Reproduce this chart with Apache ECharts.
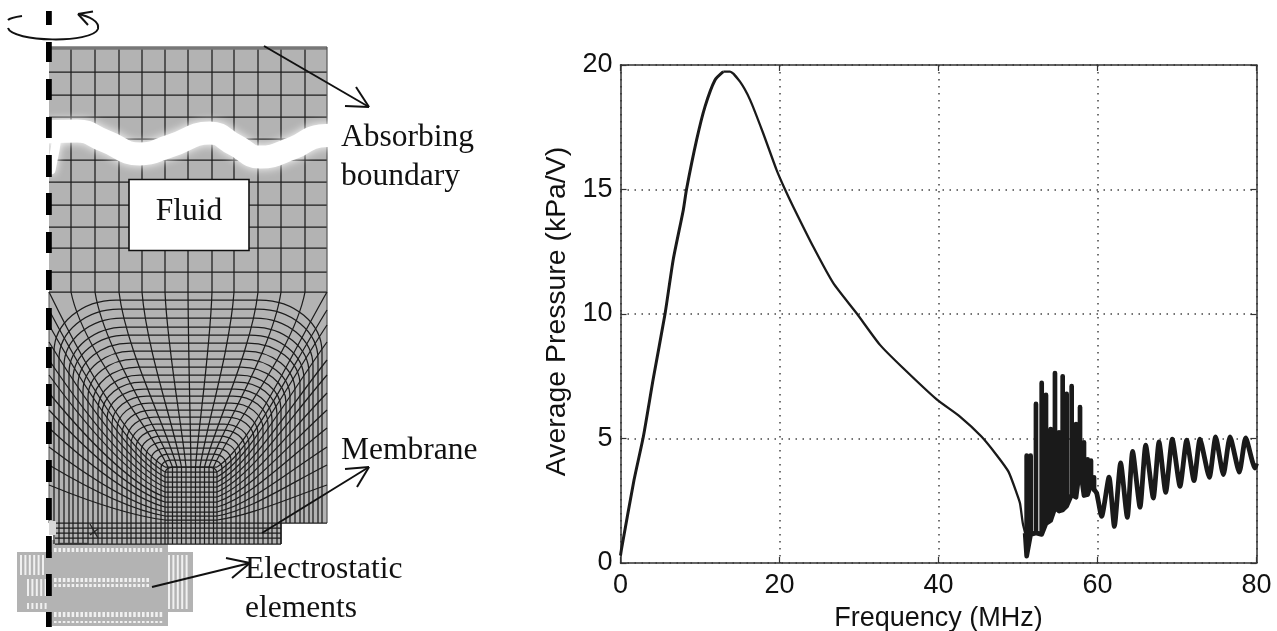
<!DOCTYPE html>
<html><head><meta charset="utf-8">
<style>html,body{margin:0;padding:0;background:#fff}#c{width:1277px;height:631px}</style>
<script src="https://cdn.jsdelivr.net/npm/echarts@6/dist/echarts.min.js"></script>
</head><body><div id="c"></div>
<script>
// ---------- right panel: Average Pressure vs Frequency, [MHz, kPa/V] ----------
const xTicks = [0, 20, 40, 60, 80];
const yTicks = [0, 5, 10, 15, 20];
const xTitle = 'Frequency (MHz)';
const yTitle = 'Average Pressure (kPa/V)';
const risePart = [[0,0.3],[0.15,0.6],[1.7,3.33],[2.87,5.07],[4.13,7.42],[5.6,10],[6.64,12.2],[7.9,14.18],[8.3,15],[9.58,17],[10.63,18.33],[11.89,19.4],[12.93,19.73]];
const fallPart = [[12.93,19.73],[13.77,19.73],[15.03,19.33],[16.3,18.6],[17.9,17.3],[19.64,15.78],[20.7,15],[21.74,14.3],[24.25,12.7],[26.77,11.24],[29.7,10.03],[32.64,8.76],[35.57,7.82],[39.77,6.57],[42.7,5.88],[45.43,5.07],[47.3,4.34],[48.8,3.67],[49.84,2.8],[50.25,2.4],[50.6,1.6],[50.9,1.2]];
// burst region: each column is [MHz, low, high]
const burstColumns = [[51.09,0.28,4.31],[51.59,1.15,4.31],[52.26,1.21,6.39],[52.98,1.15,7.23],[53.52,1.59,6.75],[54.11,1.71,5.38],[54.65,2.22,7.63],[55.16,2.09,5.25],[55.62,2.13,7.5],[56.12,2.29,6.79],[56.75,2.75,7.1],[57.3,2.64,5.58],[57.8,3.87,6.26],[58.3,2.71,4.85],[58.76,2.75,4.16],[59.18,3.15,4.11],[59.56,2.95,3.44]];
const tailPart = [[59.56,2.95],[59.9,2.8],[60.52,1.87],[61.45,3.45],[62.12,1.47],[62.91,4.02],[63.75,1.83],[64.42,4.48],[65.35,2.24],[66.06,4.73],[67.02,2.61],[67.74,4.86],[68.58,2.84],[69.41,4.97],[70.38,3.08],[71.22,4.93],[72.14,3.31],[72.89,4.97],[74.07,3.44],[74.86,5.06],[75.83,3.55],[76.67,5.06],[77.84,3.65],[78.64,5.02],[79.81,3.81],[80,4.0]];

// ---------- left panel: finite-element schematic, in diagram units ----------
const meshCols = [71,95,119,142,165,188,212,234,258,281,305];
const meshRows = [72,95,117,139,160,182,205,227,248,272,292];
// rings of the refined zone: [left foot, top, right foot, corner width, corner height]
const rings = [[54,300,322,62,52],[59,309,318,60,50],[64,318,313,58,48],[69,327,309,56,46],[73,335,304,54,44],[78,343,300,52,42],[83,351,295,49,40],[88,359,290,47,38],[93,367,286,45,36],[98,375,281,42,34],[102,382,277,40,32],[107,389,272,37,30],[112,396,268,35,28],[117,403,263,32,26],[122,410,258,30,24],[127,417,254,27,22],[131,424,249,25,20],[136,430,245,22,18],[141,436,240,20,16],[146,442,236,17,14],[151,448,231,15,12],[156,454,226,12,10],[161,460,222,10,8],[165,467,217,8,6]];
const topFans = [[71,168],[95,172.5],[119,177],[142,181.5],[165,186],[188,191],[212,195.5],[234,200],[258,204.5],[281,209],[305,213.5]];
const sideFans = [[292,467],[310,472],[325,477],[342,482],[360,487],[375,492],[393,497],[410,502],[428,507],[447,512],[465,516],[485,520],[523,523]];
const blockRows = [528,533,538,544];
const wave = [[30,133],[77,131],[105,141],[140,154],[170,146],[210,133],[235,145],[260,157],[293,148],[320,136],[340,135]];
const waveTail = [[58,130],[55,150],[51,170]];
const axisDashes = [[11,25],[42,62],[79,100],[117,138],[155,177],[193,215],[232,253],[270,290],[308,330],[347,368],[384,406],[422,444],[460,482],[498,520],[536,558],[574,596],[612,627]];
// straight arrows: [x0,y0,x1,y1,head a x,y,head b x,y]
const arrows = [[264,46,369,107,356,87,345,106],[262,533,369,467,345,469,357,487],[152,587,250,563,226,558,232,578]];
const grayBlocks = [[49,47,278,476],[55,523,226,21],[52,540,116,86],[17,552,176,60]];
// slit groups: [x start, x end, step, y start, y end, slit width]
const slits = [[20,46,4.4,555,575,2],[27,46,4.4,579,596,2],[27,46,4.4,603,609,2],[168,190,4.4,555,609,2],[54,163,4.4,548,552,2.6],[54,150,4.4,578,582,2.6],[54,150,4.4,584,587,2.6],[54,163,4.4,612,617,2.6],[54,163,4.4,621,623,2.6]];
const notes = [['Fluid',189,212],['Absorbing',341,138],['boundary',341,177],['Membrane',341,451],['Electrostatic',245,570],['elements',245,609]];

const MESH = '#1c1c1c';
function line(api,a,b,stroke,w){const p=api.coord(a),q=api.coord(b);return {type:'line',shape:{x1:p[0],y1:p[1],x2:q[0],y2:q[1]},style:{stroke:stroke||MESH,lineWidth:w||1.25}};}
function bez(api,a,c,d,b,stroke,w){const p=api.coord(a),q=api.coord(b),r=api.coord(c),s=api.coord(d);return {type:'bezierCurve',shape:{x1:p[0],y1:p[1],x2:q[0],y2:q[1],cpx1:r[0],cpy1:r[1],cpx2:s[0],cpy2:s[1]},style:{stroke:stroke||MESH,lineWidth:w||1.25,fill:'none'}};}
function box(api,x,y,w,h,fill,stroke,lw){const p=api.coord([x,y]),q=api.coord([x+w,y+h]);return {type:'rect',shape:{x:p[0],y:p[1],width:q[0]-p[0],height:q[1]-p[1]},style:{fill:fill,stroke:stroke||null,lineWidth:lw||0}};}
function layer(z,data,fn){return {type:'custom',coordinateSystem:'cartesian2d',xAxisIndex:2,yAxisIndex:2,z:z,silent:true,clip:false,animation:false,data:data.map((d,i)=>i),renderItem:(p,api)=>({type:'group',children:fn(api,data[p.dataIndex])})};}
const footEnd = x => x<=281 ? 544 : 523;

const chartLine = (data,w,smooth)=>({type:'line',data:data,xAxisIndex:0,yAxisIndex:0,showSymbol:false,symbol:'none',animation:false,silent:true,z:5,smooth:smooth||false,lineStyle:{color:'#1a1a1a',width:w,join:'round',cap:'butt'}});
const burstPath = [[50.9,1.2]].concat(burstColumns.flatMap(c=>[[c[0],c[1]],[c[0],c[2]],[c[0],c[1]]]));

const option = {
  animation:false,backgroundColor:'#fff',
  grid:[
    {left:620.5,top:65,width:636,height:498,show:false,outerBoundsMode:'none'},
    {left:0,top:0,width:480,height:631,show:false,outerBoundsMode:'none'}
  ],
  xAxis:[
    {type:'value',gridIndex:0,min:0,max:80,interval:20,name:xTitle,nameLocation:'middle',nameGap:42,nameTextStyle:{fontFamily:'Liberation Sans',fontSize:27,color:'#111'},
      axisLine:{show:true,onZero:false,lineStyle:{color:'#333',width:1.5}},axisTick:{show:true,inside:true,length:6,lineStyle:{color:'#333',width:1.2}},
      axisLabel:{fontFamily:'Liberation Sans',fontSize:27,color:'#111',margin:9,showMinLabel:true,showMaxLabel:true,formatter:v=>xTicks.includes(v)?String(v):''},
      splitLine:{show:true,lineStyle:{color:'#444',width:1.5,type:[1.5,5.5]}}},
    {type:'value',gridIndex:0,position:'top',min:0,max:80,interval:20,axisLine:{show:true,onZero:false,lineStyle:{color:'#333',width:1.5}},axisTick:{show:true,inside:true,length:6,lineStyle:{color:'#333',width:1.2}},axisLabel:{show:false},splitLine:{show:false}},
    {type:'value',gridIndex:1,min:0,max:480,show:false}
  ],
  yAxis:[
    {type:'value',gridIndex:0,min:0,max:20,interval:5,name:yTitle,nameLocation:'middle',nameGap:49,nameTextStyle:{fontFamily:'Liberation Sans',fontSize:28.4,color:'#111',padding:[0,0,0,5]},
      axisLine:{show:true,onZero:false,lineStyle:{color:'#333',width:1.5}},axisTick:{show:true,inside:true,length:6,lineStyle:{color:'#333',width:1.2}},
      axisLabel:{fontFamily:'Liberation Sans',fontSize:27,color:'#111',margin:8,showMinLabel:true,showMaxLabel:true,formatter:v=>yTicks.includes(v)?String(v):''},
      splitLine:{show:true,lineStyle:{color:'#444',width:1.5,type:[1.5,5.5]}}},
    {type:'value',gridIndex:0,position:'right',min:0,max:20,interval:5,axisLine:{show:true,onZero:false,lineStyle:{color:'#333',width:1.5}},axisTick:{show:true,inside:true,length:6,lineStyle:{color:'#333',width:1.2}},axisLabel:{show:false},splitLine:{show:false}},
    {type:'value',gridIndex:1,min:0,max:631,inverse:true,show:false}
  ],
  series:[
    chartLine(risePart,3,0.2),chartLine(fallPart,2.3,0.2),chartLine(burstPath,4.7),chartLine(tailPart,4.8,0.2),
    layer(1,grayBlocks,(api,b)=>[box(api,b[0],b[1],b[2],b[3],'#b3b3b3')]),
    layer(1,slits,(api,s)=>{const o=[];for(let x=s[0];x<=s[1];x+=s[2])o.push(box(api,x,s[3],s[5],s[4]-s[3],'#f0f0f0'));return o;}),
    layer(2,meshCols,(api,x)=>[line(api,[x,47],[x,292])]),
    layer(2,meshRows,(api,y)=>[line(api,[49,y],[327,y])]),
    layer(2,[[48,'#777',3.5]],(api,r)=>[line(api,[49,r[0]],[327,r[0]],r[1],r[2]),line(api,[327,47],[327,523],'#555',1.2),line(api,[49,292],[49,523],'#555',1)]),
    layer(2,rings,(api,r)=>[
      line(api,[r[0],r[1]+r[4]],[r[0],footEnd(r[0])]),
      bez(api,[r[0],r[1]+r[4]],[r[0],r[1]+r[4]*0.45],[r[0]+r[3]*0.45,r[1]],[r[0]+r[3],r[1]]),
      line(api,[r[0]+r[3],r[1]],[r[2]-r[3],r[1]]),
      bez(api,[r[2]-r[3],r[1]],[r[2]-r[3]*0.45,r[1]],[r[2],r[1]+r[4]*0.45],[r[2],r[1]+r[4]]),
      line(api,[r[2],r[1]+r[4]],[r[2],footEnd(r[2])])
    ]),
    layer(2,topFans,(api,f)=>[
      bez(api,[f[0],292],[f[0]+(f[1]-f[0])*0.12,350],[f[1]-(f[1]-f[0])*0.2,425],[f[1],467]),
      line(api,[f[1],467],[f[1],544])
    ]),
    layer(2,sideFans,(api,f)=>[
      bez(api,[49,f[0]],[85,f[0]+(f[1]-f[0])*0.42],[130,f[1]-(f[1]-f[0])*0.12],[165,f[1]]),
      bez(api,[327,f[0]],[285,f[0]+(f[1]-f[0])*0.42],[250,f[1]-(f[1]-f[0])*0.12],[217,f[1]]),
      line(api,[165,f[1]],[217,f[1]])
    ]),
    layer(2,blockRows,(api,y)=>[line(api,[55,y],[281,y])]),
    layer(2,[281],(api,x)=>[line(api,[x,523],[x,544]),line(api,[58,543.5],[88,543.5],'#333',1.4),line(api,[90,524],[98,538],'#222',1.3),line(api,[98,529],[90,535],'#222',1.3)]),
    layer(2,[[49,521,7,14]],(api,b)=>[box(api,b[0],b[1],b[2],b[3],'#d8d8d8')]),
    {type:'line',xAxisIndex:2,yAxisIndex:2,data:wave,smooth:0.5,symbol:'none',silent:true,animation:false,z:3,lineStyle:{color:'#fff',width:23,shadowBlur:10,shadowColor:'#fff',cap:'round'}},
    {type:'line',xAxisIndex:2,yAxisIndex:2,data:waveTail,symbol:'none',silent:true,animation:false,z:3,lineStyle:{color:'#fff',width:9,shadowBlur:9,shadowColor:'#fff',cap:'round'}},
    layer(4,[[129,179.5,120,71]],(api,b)=>[box(api,b[0],b[1],b[2],b[3],'#fff','#111',1.6)]),
    layer(5,axisDashes,(api,d)=>[box(api,46,d[0],5.8,d[1]-d[0],'#000')]),
    layer(6,arrows,(api,a)=>[
      line(api,[a[0],a[1]],[a[2],a[3]],'#111',2),
      line(api,[a[4],a[5]],[a[2],a[3]],'#111',2),
      line(api,[a[6],a[7]],[a[2],a[3]],'#111',2)
    ]),
    layer(6,[0],(api)=>[
      bez(api,[8,28],[12,42],[92,44],[98,29],'#111',2),
      bez(api,[98,29],[100,21],[88,16],[78,14],'#111',2),
      line(api,[78,14],[93,11.5],'#111',2),line(api,[78,14],[88,25],'#111',2),
      bez(api,[8,20],[10,18],[15,17],[22,16],'#111',2)
    ]),
    layer(7,notes,(api,n)=>{const p=api.coord([n[1],n[2]]);return [{type:'text',style:{text:n[0],x:p[0],y:p[1],fill:'#111',font:'31.5px "Liberation Serif"',align:n[0]==='Fluid'?'center':'left',verticalAlign:'middle'}}];})
  ]
};
const chart = echarts.init(document.getElementById('c'),null,{renderer:'canvas'});
chart.setOption(option);
</script></body></html>
